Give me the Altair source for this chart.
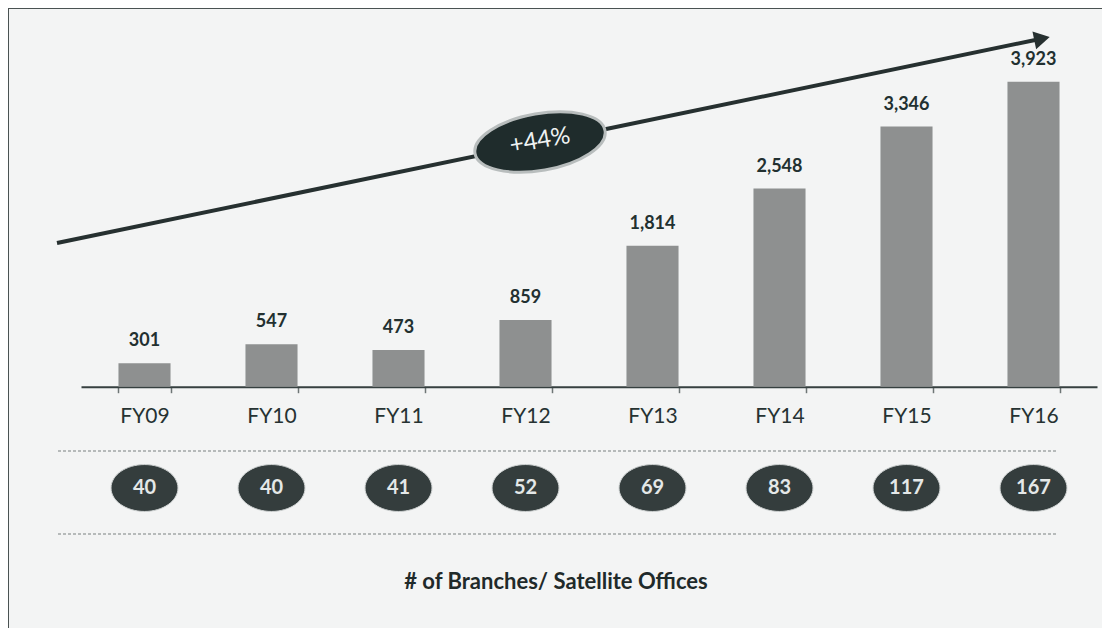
import altair as alt
import pandas as pd

# ---- data ----
fiscal_years = ["FY09", "FY10", "FY11", "FY12", "FY13", "FY14", "FY15", "FY16"]
customers = [301, 547, 473, 859, 1814, 2548, 3346, 3923]
branches = [40, 40, 41, 52, 69, 83, 117, 167]
growth_label = "+44%"
footer_label = "# of Branches/ Satellite Offices"

df = pd.DataFrame({
    "fy": fiscal_years,
    "value": customers,
    "branches": branches,
})
df["value_lbl"] = [f"{v:,}" for v in customers]
df["branch_lbl"] = [str(b) for b in branches]

one = pd.DataFrame({"k": [0]})

W, H = 1094, 620
BASE_Y = 378.7
FONT = "Lato"
DARK = "#223030"

x_enc = alt.X(
    "fy:N",
    sort=fiscal_years,
    title=None,
    scale=alt.Scale(range=[73, 1089], paddingInner=0.59, paddingOuter=0.295),
    axis=alt.Axis(
        offset=BASE_Y - H,
        domainColor="#364040",
        domainWidth=2,
        ticks=True,
        tickBand="extent",
        tickColor="#6e7676",
        tickWidth=1.5,
        tickSize=6,
        labelFont=FONT,
        labelFontSize=21,
        labelColor="#263232",
        labelPadding=13,
        labelAngle=0,
        grid=False,
    ),
)
y_enc = alt.Y(
    "value:Q",
    title=None,
    axis=None,
    scale=alt.Scale(domain=[0, 4000], range=[BASE_Y, BASE_Y - 4000 * 305 / 3923]),
)

bars = alt.Chart(df).mark_bar(color="#8e9090").encode(x=x_enc, y=y_enc)

value_text = alt.Chart(df).mark_text(
    font=FONT, fontSize=18, fontWeight="bold", color=DARK, dy=-22, baseline="middle"
).encode(x=x_enc, y=y_enc, text="value_lbl:N")

ell = lambda ry: f"M -1 0 A 1 {ry} 0 1 0 1 0 A 1 {ry} 0 1 0 -1 0 Z"

branch_pts = alt.Chart(df).mark_point(
    shape=ell(0.7), size=67 * 67, filled=True, fill="#343d3d", opacity=1,
    stroke="#cfd3d3", strokeWidth=1,
).encode(x=x_enc, y=alt.value(480))

branch_text = alt.Chart(df).mark_text(
    font=FONT, fontSize=20, fontWeight="bold", color="#e4e8e8", baseline="middle"
).encode(x=x_enc, y=alt.value(480), text="branch_lbl:N")

dash1 = alt.Chart(one).mark_rule(color="#a2a7a7", strokeWidth=1.5, strokeDash=[3, 2]).encode(
    x=alt.value(50), x2=alt.value(1049), y=alt.value(443))
dash2 = alt.Chart(one).mark_rule(color="#a2a7a7", strokeWidth=1.5, strokeDash=[3, 2]).encode(
    x=alt.value(50), x2=alt.value(1049), y=alt.value(526))

arrow_line = alt.Chart(one).mark_rule(color="#263030", strokeWidth=4).encode(
    x=alt.value(49), y=alt.value(235), x2=alt.value(1032), y2=alt.value(31))
arrow_head = alt.Chart(one).mark_point(
    shape="triangle-right", size=330, filled=True, fill="#263030", opacity=1, angle=348.3
).encode(x=alt.value(1034), y=alt.value(30.7))

growth_ell = alt.Chart(one).mark_point(
    shape=ell(0.43), size=132 * 132, filled=True, fill="#1f2c2c", opacity=1,
    stroke="#b8bdbd", strokeWidth=3, angle=350,
).encode(x=alt.value(532), y=alt.value(134))
growth_text = alt.Chart(one).mark_text(
    font=FONT, fontSize=24, color="#eef2f2", angle=350, baseline="middle"
).encode(x=alt.value(532), y=alt.value(133), text=alt.value(growth_label))

footer = alt.Chart(one).mark_text(
    font=FONT, fontSize=22, fontWeight="bold", color="#1f2a2a", baseline="middle"
).encode(x=alt.value(548), y=alt.value(574), text=alt.value(footer_label))

frame_top = alt.Chart(one).mark_rule(color="#4a5252", strokeWidth=2).encode(
    x=alt.value(0), x2=alt.value(W), y=alt.value(0))
frame_left = alt.Chart(one).mark_rule(color="#4a5252", strokeWidth=2).encode(
    x=alt.value(0), y=alt.value(0), y2=alt.value(H))

chart = alt.layer(
    bars, value_text, dash1, dash2, branch_pts, branch_text,
    arrow_line, arrow_head, growth_ell, growth_text, footer, frame_top, frame_left,
).properties(
    width=W, height=H, padding=0,
    autosize=alt.AutoSizeParams(type="none"),
    background="#f3f4f4",
).configure_view(stroke=None)

chart.save("out.html", embed_options={"renderer": "svg", "actions": False})
